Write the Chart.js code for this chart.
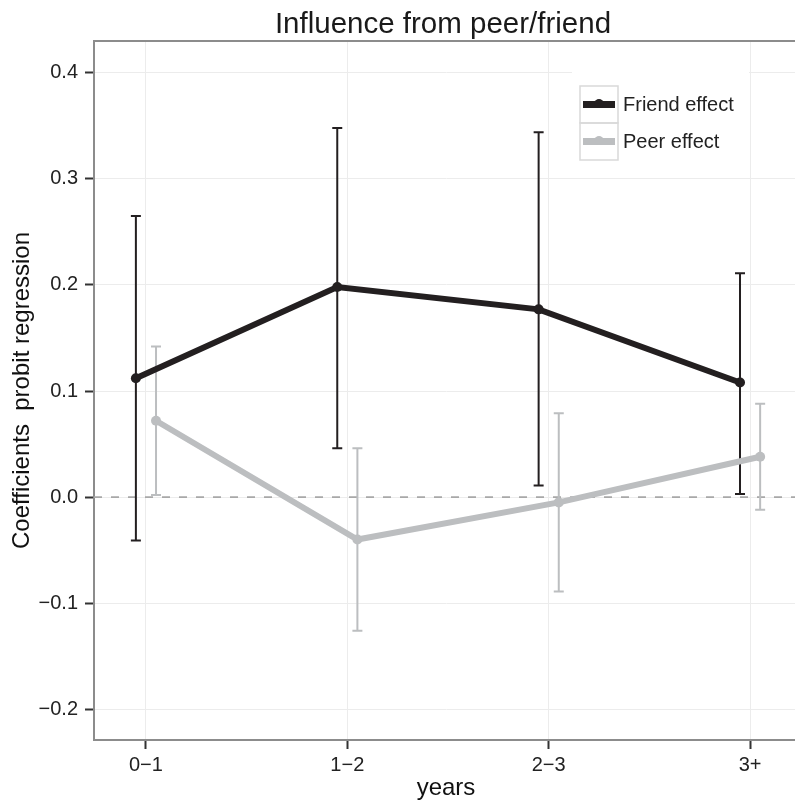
<!DOCTYPE html>
<html><head><meta charset="utf-8">
<script src="https://cdn.jsdelivr.net/npm/chart.js@4.4.1/dist/chart.umd.min.js"></script>
<style>html,body{margin:0;padding:0;background:#fff;overflow:hidden;width:795px;height:800px}canvas{display:block}</style>
</head><body>
<canvas id="c" width="803" height="800"></canvas>
<script>
// ---- data ----
const categories = ["0\u22121", "1\u22122", "2\u22123", "3+"];
const seriesNames = ["Friend effect", "Peer effect"];
const friendEst  = [0.112, 0.198, 0.177, 0.108];
const friendLow  = [-0.041, 0.046, 0.011, 0.003];
const friendHigh = [0.265, 0.348, 0.344, 0.211];
const peerEst    = [0.072, -0.040, -0.005, 0.038];
const peerLow    = [0.002, -0.126, -0.089, -0.012];
const peerHigh   = [0.142, 0.046, 0.079, 0.088];
const yTicks = [-0.2, -0.1, 0.0, 0.1, 0.2, 0.3, 0.4];
const titleText = "Influence from peer/friend";
const xTitle = "years";
const yTitle = "Coefficients  probit regression";

// ---- styling ----
const FONT = '"Liberation Sans", Arial, Helvetica, sans-serif';
const friendColor = '#231f20';
const peerColor = '#bcbec0';
const DODGE = 0.05;

function mkData(est, lo, hi, shift) {
  return est.map((v, i) => ({ x: i + shift, y: v, lo: lo[i], hi: hi[i] }));
}

const datasets = [
  { label: seriesNames[0], data: mkData(friendEst, friendLow, friendHigh, -DODGE),
    borderColor: friendColor, backgroundColor: friendColor, pointBackgroundColor: friendColor,
    borderWidth: 6, pointRadius: 5, pointBorderWidth: 0, tension: 0, order: 2 },
  { label: seriesNames[1], data: mkData(peerEst, peerLow, peerHigh, DODGE),
    borderColor: peerColor, backgroundColor: peerColor, pointBackgroundColor: peerColor,
    borderWidth: 6, pointRadius: 5, pointBorderWidth: 0, tension: 0, order: 1 }
];

function fmtY(v) {
  if (Math.abs(v) < 1e-9) return '0.0';
  return v.toFixed(1).replace('-', '\u2212');
}

const zeroAndBars = {
  id: 'zeroAndBars',
  beforeDatasetsDraw(chart) {
    const { ctx, chartArea: a, scales: { x, y } } = chart;
    const y0 = y.getPixelForValue(0);
    ctx.save();
    ctx.strokeStyle = '#a8a8a8';
    ctx.lineWidth = 1.6;
    ctx.setLineDash([8, 9]);
    ctx.beginPath(); ctx.moveTo(a.left, y0); ctx.lineTo(a.right, y0); ctx.stroke();
    ctx.setLineDash([]);
    chart.data.datasets.forEach(ds => {
      ctx.strokeStyle = ds.borderColor;
      ctx.lineWidth = 2;
      ds.data.forEach(p => {
        const px = x.getPixelForValue(p.x);
        const y1 = y.getPixelForValue(p.lo), y2 = y.getPixelForValue(p.hi);
        ctx.beginPath();
        ctx.moveTo(px, y1); ctx.lineTo(px, y2);
        ctx.moveTo(px - 5, y1); ctx.lineTo(px + 5, y1);
        ctx.moveTo(px - 5, y2); ctx.lineTo(px + 5, y2);
        ctx.stroke();
      });
    });
    ctx.restore();
  },
  afterDraw(chart) {
    const { ctx, chartArea: a } = chart;
    ctx.save();
    ctx.strokeStyle = '#8c8c8c';
    ctx.lineWidth = 2;
    ctx.beginPath(); ctx.moveTo(a.left - 1, a.top); ctx.lineTo(a.right, a.top); ctx.stroke();
    ctx.fillStyle = '#1a1a1a';
    ctx.font = '29.5px ' + FONT;
    ctx.textAlign = 'center';
    ctx.textBaseline = 'alphabetic';
    ctx.fillText(titleText, 443, 33);
    const lx = 580, ly = 86, kw = 38, kh = 37;
    ctx.fillStyle = '#ffffff';
    ctx.fillRect(572, 66, 177, 106);
    chart.data.datasets.forEach((ds, i) => {
      const ky = ly + i * kh;
      ctx.strokeStyle = '#d9d9d9';
      ctx.lineWidth = 1.5;
      ctx.strokeRect(lx, ky, kw, kh);
      ctx.strokeStyle = ds.borderColor;
      ctx.lineWidth = 7;
      ctx.beginPath(); ctx.moveTo(lx + 3, ky + kh / 2); ctx.lineTo(lx + kw - 3, ky + kh / 2); ctx.stroke();
      ctx.fillStyle = ds.borderColor;
      ctx.beginPath(); ctx.arc(lx + kw / 2, ky + kh / 2 - 1, 4.5, 0, Math.PI * 2); ctx.fill();
      ctx.fillStyle = '#222';
      ctx.font = '20px ' + FONT;
      ctx.textAlign = 'left';
      ctx.textBaseline = 'middle';
      ctx.fillText(ds.label, lx + kw + 5, ky + kh / 2 + 1);
    });
    ctx.restore();
  }
};

new Chart(document.getElementById('c'), {
  type: 'line',
  data: { datasets },
  options: {
    responsive: false,
    animation: false,
    devicePixelRatio: 1,
    layout: { padding: { top: 41, right: 0, bottom: 0, left: 0 } },
    plugins: { legend: { display: false }, tooltip: { enabled: false }, title: { display: false } },
    scales: {
      x: {
        type: 'linear',
        min: -0.258, max: 3.238,
        afterBuildTicks(s) { s.ticks = categories.map((c, i) => ({ value: i })); },
        afterFit(s) { s.height = 60; s.paddingLeft = 0; s.paddingRight = 0; },
        ticks: { callback: v => categories[v], font: { family: FONT, size: 20 }, color: '#222', padding: 4, maxRotation: 0, autoSkip: false },
        grid: { color: '#ececec', lineWidth: 1, tickColor: '#333', tickLength: 9, tickWidth: 2 },
        border: { display: true, color: '#8c8c8c', width: 2 },
        title: { display: true, text: xTitle, font: { family: FONT, size: 24, lineHeight: 1.0 }, color: '#111', padding: { top: 0, bottom: 0 } }
      },
      y: {
        type: 'linear',
        min: -0.229, max: 0.43,
        afterBuildTicks(s) { s.ticks = yTicks.map(v => ({ value: v })); },
        afterFit(s) { s.width = 94; },
        ticks: { callback: v => fmtY(v), font: { family: FONT, size: 20 }, color: '#222', padding: 7 },
        grid: { color: '#ececec', lineWidth: 1, tickColor: '#333', tickLength: 9, tickWidth: 2 },
        border: { display: true, color: '#8c8c8c', width: 2 },
        title: { display: true, text: yTitle, font: { family: FONT, size: 24 }, color: '#111', padding: { top: 8, bottom: 0 } }
      }
    }
  },
  plugins: [zeroAndBars]
});
</script>
</body></html>
